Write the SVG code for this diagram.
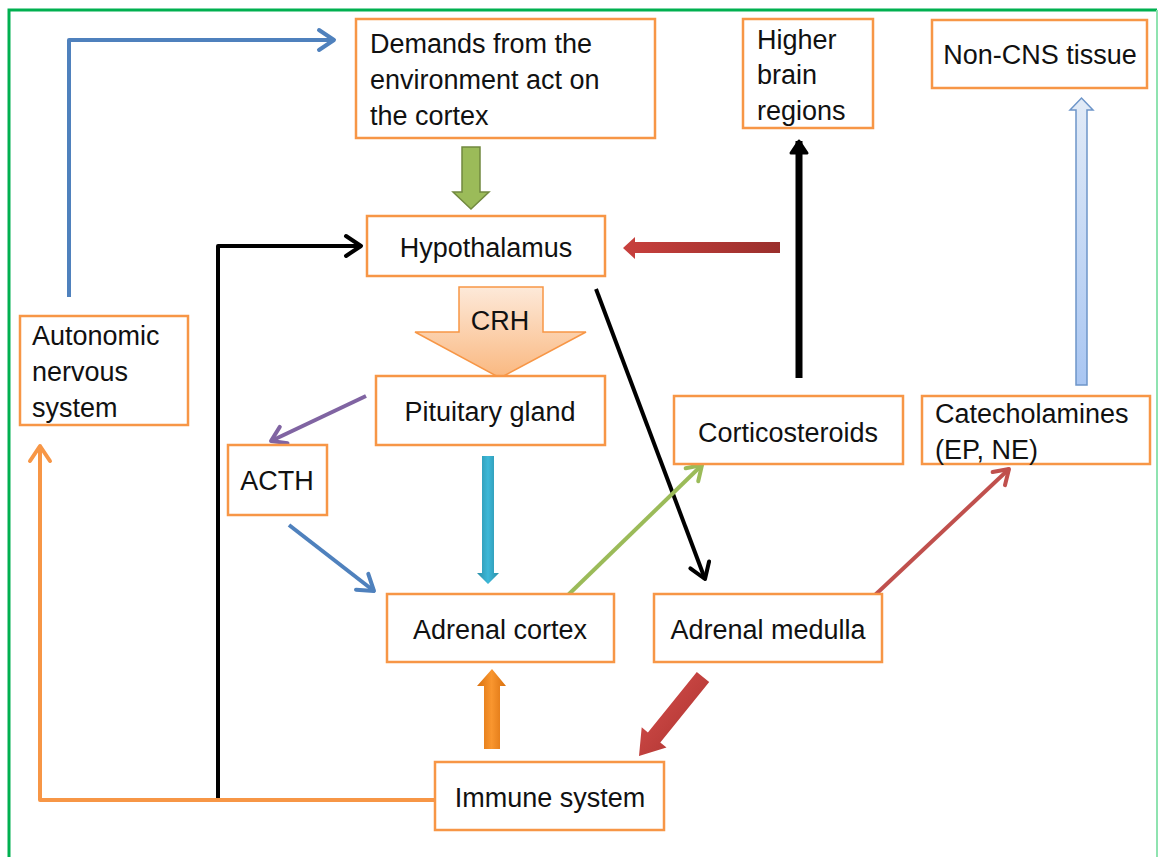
<svg xmlns="http://www.w3.org/2000/svg" width="1159" height="857" viewBox="0 0 1159 857">
<style>
.box{fill:#fff;stroke:#F79646;stroke-width:2.5}
.t{font-family:"Liberation Sans",Arial,sans-serif;font-size:27px;fill:#111}
.c{text-anchor:middle}
.ln{fill:none;stroke-width:4;stroke-linejoin:round}
</style>
<defs>
<marker id="mBlue" markerUnits="userSpaceOnUse" markerWidth="40" markerHeight="40" viewBox="-25 -20 40 40" refX="0" refY="0" orient="auto"><path d="M-15,-10 L0,0 L-15,10" fill="none" stroke="#4F81BD" stroke-width="4" stroke-linecap="round" stroke-linejoin="round"/></marker>
<marker id="mBlack" markerUnits="userSpaceOnUse" markerWidth="40" markerHeight="40" viewBox="-25 -20 40 40" refX="0" refY="0" orient="auto"><path d="M-15,-10 L0,0 L-15,10" fill="none" stroke="#000" stroke-width="4" stroke-linecap="round" stroke-linejoin="round"/></marker>
<marker id="mBlackT" markerUnits="userSpaceOnUse" markerWidth="40" markerHeight="40" viewBox="-25 -20 40 40" refX="0" refY="0" orient="auto"><path d="M-12,-8 L0,0 L-12,8 Z" fill="#000" stroke="#000" stroke-width="3" stroke-linejoin="round"/></marker>
<marker id="mOrange" markerUnits="userSpaceOnUse" markerWidth="40" markerHeight="40" viewBox="-25 -20 40 40" refX="0" refY="0" orient="auto"><path d="M-15,-10 L0,0 L-15,10" fill="none" stroke="#F79646" stroke-width="4" stroke-linecap="round" stroke-linejoin="round"/></marker>
<marker id="mPurple" markerUnits="userSpaceOnUse" markerWidth="40" markerHeight="40" viewBox="-25 -20 40 40" refX="0" refY="0" orient="auto"><path d="M-14,-9 L0,0 L-14,9" fill="none" stroke="#8064A2" stroke-width="4" stroke-linecap="round" stroke-linejoin="round"/></marker>
<marker id="mGreen" markerUnits="userSpaceOnUse" markerWidth="40" markerHeight="40" viewBox="-25 -20 40 40" refX="0" refY="0" orient="auto"><path d="M-14,-9 L0,0 L-14,9" fill="none" stroke="#9BBB59" stroke-width="4" stroke-linecap="round" stroke-linejoin="round"/></marker>
<marker id="mRed" markerUnits="userSpaceOnUse" markerWidth="40" markerHeight="40" viewBox="-25 -20 40 40" refX="0" refY="0" orient="auto"><path d="M-14,-9 L0,0 L-14,9" fill="none" stroke="#C0504D" stroke-width="4" stroke-linecap="round" stroke-linejoin="round"/></marker>
<linearGradient id="gCRH" x1="0" y1="0" x2="0" y2="1"><stop offset="0" stop-color="#FDE9D9"/><stop offset="1" stop-color="#FAB880"/></linearGradient>
<linearGradient id="gRedH" x1="0" y1="0" x2="1" y2="0"><stop offset="0" stop-color="#C8403D"/><stop offset="1" stop-color="#9A2F2C"/></linearGradient>
<linearGradient id="gCyan" x1="0" y1="0" x2="1" y2="0"><stop offset="0" stop-color="#2A8FA8"/><stop offset="0.5" stop-color="#3DB8D8"/><stop offset="1" stop-color="#2A8FA8"/></linearGradient>
<linearGradient id="gOrange" x1="0" y1="0" x2="1" y2="0"><stop offset="0" stop-color="#D9700E"/><stop offset="0.5" stop-color="#F9962F"/><stop offset="1" stop-color="#D9700E"/></linearGradient>
<linearGradient id="gRedD" x1="0" y1="0" x2="1" y2="1"><stop offset="0" stop-color="#D9514E"/><stop offset="1" stop-color="#A8302D"/></linearGradient>
<linearGradient id="gLBlue" x1="0" y1="0" x2="0" y2="1"><stop offset="0" stop-color="#E2EBF7"/><stop offset="1" stop-color="#A9C6F2"/></linearGradient>
</defs>
<rect width="1159" height="857" fill="#fff"/>
<path d="M9,857 V10 H1157" fill="none" stroke="#00B050" stroke-width="3"/>
<line x1="1157" y1="10" x2="1157" y2="857" stroke="#8FE3B0" stroke-width="2"/>

<g id="connectors">
<polyline class="ln" points="69,297 69,40 334,40" stroke="#4F81BD" marker-end="url(#mBlue)"/>
<polyline class="ln" points="218,802 218,246 361,246" stroke="#000" marker-end="url(#mBlack)"/>
<polyline class="ln" points="435,800 40,800 40,446" stroke="#F79646" marker-end="url(#mOrange)"/>
<line x1="596" y1="289" x2="705" y2="579" stroke="#000" stroke-width="4" marker-end="url(#mBlack)"/>
<line x1="799" y1="378" x2="799" y2="141" stroke="#000" stroke-width="7" marker-end="url(#mBlackT)"/>
<line x1="366" y1="396" x2="271" y2="441" stroke="#8064A2" stroke-width="4" marker-end="url(#mPurple)"/>
<line x1="289" y1="525" x2="374" y2="591" stroke="#4F81BD" stroke-width="4" marker-end="url(#mBlue)"/>
<line x1="566" y1="597" x2="702" y2="465" stroke="#9BBB59" stroke-width="4" marker-end="url(#mGreen)"/>
<line x1="874" y1="596" x2="1009" y2="469" stroke="#C0504D" stroke-width="4" marker-end="url(#mRed)"/>
<polygon points="462,147 480,147 480,192 489,192 471,209 453,192 462,192" fill="#9BBB59" stroke="#71893F" stroke-width="1.5"/>
<polygon points="780,242 780,253 635,253 635,259 623,248 635,237 635,242" fill="url(#gRedH)"/>
<polygon points="459,287 543,287 543,332 586,332 500,378 415,332 459,332" fill="url(#gCRH)" stroke="#F79646" stroke-width="1.5"/>
<text class="t c" x="500" y="330">CRH</text>
<polygon points="482,456 494,456 494,573 499,573 488,584 477,573 482,573" fill="url(#gCyan)"/>
<polygon points="484,749 500,749 500,686 506,686 492,669 477,686 484,686" fill="url(#gOrange)"/>
<polygon points="709.2,682 660.3,742.4 666.5,747.5 639,756 641.7,727.3 647.9,732.4 696.8,672" fill="url(#gRedD)"/>
<polygon points="1076,385 1087,385 1087,110 1093,110 1081.5,98 1070,110 1076,110" fill="url(#gLBlue)" stroke="#6D95C9" stroke-width="1.5"/>
</g>

<g id="demands"><rect class="box" x="356" y="19" width="299" height="119"/>
<text class="t" x="370" y="53">Demands from the</text><text class="t" x="370" y="89">environment act on</text><text class="t" x="370" y="125">the cortex</text></g>
<g id="higher-brain"><rect class="box" x="743" y="19" width="130" height="109"/>
<text class="t" x="757" y="49">Higher</text><text class="t" x="757" y="84">brain</text><text class="t" x="757" y="120">regions</text></g>
<g id="non-cns"><rect class="box" x="932" y="20" width="215" height="68"/>
<text class="t c" x="1040" y="64">Non-CNS tissue</text></g>
<g id="hypothalamus"><rect class="box" x="367" y="216" width="238" height="60"/>
<text class="t c" x="486" y="257">Hypothalamus</text></g>
<g id="autonomic"><rect class="box" x="20" y="316" width="168" height="109"/>
<text class="t" x="32" y="345">Autonomic</text><text class="t" x="32" y="381">nervous</text><text class="t" x="32" y="417">system</text></g>
<g id="pituitary"><rect class="box" x="376" y="376" width="229" height="69"/>
<text class="t c" x="490" y="421">Pituitary gland</text></g>
<g id="acth"><rect class="box" x="228" y="445" width="99" height="70"/>
<text class="t c" x="277" y="490">ACTH</text></g>
<g id="corticosteroids"><rect class="box" x="674" y="396" width="229" height="68"/>
<text class="t c" x="788" y="442">Corticosteroids</text></g>
<g id="catecholamines"><rect class="box" x="922" y="396" width="228" height="68"/>
<text class="t" x="935" y="423">Catecholamines</text><text class="t" x="935" y="459">(EP, NE)</text></g>
<g id="adrenal-cortex"><rect class="box" x="387" y="594" width="227" height="68"/>
<text class="t c" x="500" y="639">Adrenal cortex</text></g>
<g id="adrenal-medulla"><rect class="box" x="654" y="594" width="228" height="68"/>
<text class="t c" x="768" y="639">Adrenal medulla</text></g>
<g id="immune"><rect class="box" x="435" y="762" width="229" height="68"/>
<text class="t c" x="550" y="807">Immune system</text></g>
</svg>
